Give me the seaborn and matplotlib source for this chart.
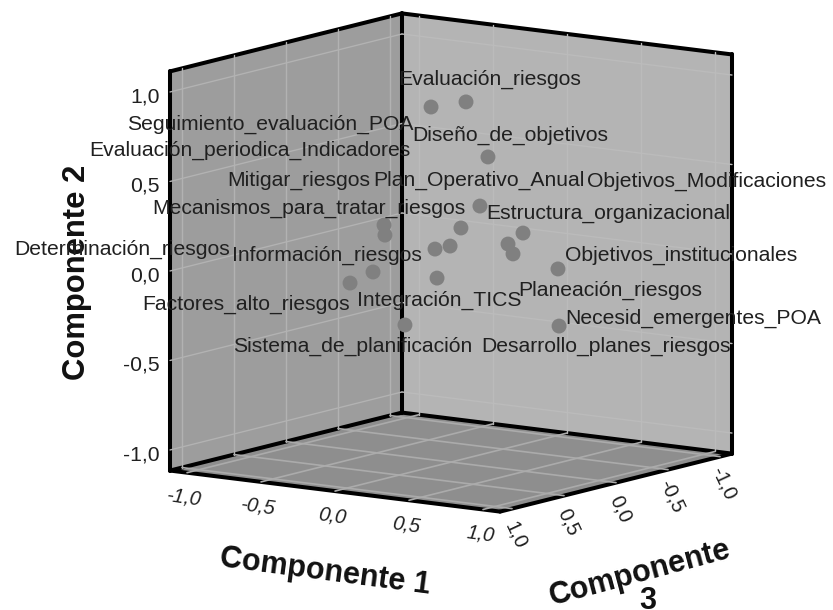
import numpy as np
import pandas as pd
import matplotlib
matplotlib.use("Agg")
import matplotlib.pyplot as plt
from matplotlib.patches import Polygon
import seaborn as sns

etiquetas = ["Evaluación_riesgos", "Seguimiento_evaluación_POA", "Diseño_de_objetivos",
             "Plan_Operativo_Anual", "Mecanismos_para_tratar_riesgos", "Desarrollo_planes_riesgos",
             "Información_riesgos", "Objetivos_Modificaciones", "Planeación_riesgos",
             "Estructura_organizacional", "Objetivos_institucionales", "Integración_TICS",
             "Evaluación_periodica_Indicadores", "Mitigar_riesgos", "Determinación_riesgos",
             "Factores_alto_riesgos", "Sistema_de_planificación", "Necesid_emergentes_POA"]
comp1 = [0.242, 0.076, 0.320, 0.336, 0.278, 0.064, 0.173, 0.315, 0.419,
         0.346, 0.512, 0.257, -0.031, -0.095, -0.035, -0.120, -0.030, 0.449]
comp2 = [0.951, 0.920, 0.637, 0.379, 0.265, 0.113, 0.151, 0.121, 0.091,
         0.171, -0.027, 0.012, 0.293, 0.216, 0.045, -0.011, -0.294, -0.367]
comp3 = [0.2, 0.3, 0.1, 0.2, 0.3, 0.1, 0.4, -0.1, 0.0,
         -0.2, -0.3, 0.5, 0.6, 0.5, 0.7, 0.8, 0.4, -0.4]
ticks = [-1.0, -0.5, 0.0, 0.5, 1.0]

# donde cae cada etiqueta en la imagen (izquierda, centro vertical)
etq_x = [398, 127, 412, 373, 152, 481, 232, 587, 518, 486, 565, 357, 89, 227, 14, 142, 233, 565]
etq_y = [79, 124, 135, 180, 208, 346, 255, 181, 290, 213, 255, 300, 150, 180, 249, 304, 346, 318]

L = 1.115  # el cubo llega un poco mas alla de +-1


# proyeccion paralela del cubo a pixeles de la imagen
def proy(c1, c2, c3):
    c1, c2, c3 = np.asarray(c1, float), np.asarray(c2, float), np.asarray(c3, float)
    x = 451 + 148 * c1 - 104 * c3
    y = 262.5 + 18.4 * c1 + 26 * c3 - 179 * c2
    return x, y


def linea(ax, a, b, **kw):
    x, y = proy(*np.array([a, b]).T)
    ax.plot(x, y, **kw)


def cara(ax, puntos, color):
    x, y = proy(*np.array(puntos).T)
    ax.add_patch(Polygon(np.c_[x, y], closed=True, fc=color, ec="none", zorder=0))


sns.set_theme(style="white")
plt.rcParams["font.family"] = ["Liberation Sans", "DejaVu Sans"]

fig, ax = plt.subplots(figsize=(8.33, 6.10), dpi=100)
fig.subplots_adjust(0, 0, 1, 1)
ax.set_xlim(0, 833)
ax.set_ylim(610, 0)
ax.axis("off")

# paredes y piso
cara(ax, [(-L, -L, -L), (-L, -L, L), (-L, L, L), (-L, L, -L)], "#9d9d9d")
cara(ax, [(-L, -L, -L), (L, -L, -L), (L, L, -L), (-L, L, -L)], "#b4b4b4")
cara(ax, [(-L, -L, -L), (L, -L, -L), (L, -L, L), (-L, -L, L)], "#8e8e8e")

# marco negro
marco = [((-L, -L, L), (-L, L, L)), ((-L, -L, -L), (-L, L, -L)), ((L, -L, -L), (L, L, -L)),
         ((-L, L, L), (-L, L, -L)), ((-L, L, -L), (L, L, -L)),
         ((-L, -L, L), (-L, -L, -L)), ((-L, -L, -L), (L, -L, -L)),
         ((-L, -L, L), (L, -L, L)), ((L, -L, -L), (L, -L, L))]
for a, b in marco:
    linea(ax, a, b, color="black", lw=2.9, zorder=1, solid_capstyle="round")

# rejilla, por encima del marco para que lo muerda un poco
for t in ticks:
    linea(ax, (-L, -L, t), (-L, L, t), color="#b2b2b2", lw=1, zorder=2)
    linea(ax, (-L, t, -L), (-L, t, L), color="#b2b2b2", lw=1, zorder=2)
    linea(ax, (t, -L, -L), (t, L, -L), color="#bbbbbb", lw=1, zorder=2)
    linea(ax, (-L, t, -L), (L, t, -L), color="#bbbbbb", lw=1, zorder=2)
    linea(ax, (t, -L, -L), (t, -L, L), color="#ababab", lw=1.2, zorder=2)
    linea(ax, (-L, -L, t), (L, -L, t), color="#ababab", lw=1.2, zorder=2)

# puntos
px, py = proy(comp1, comp2, comp3)
df = pd.DataFrame({"x": px, "y": py, "etiqueta": etiquetas})
sns.scatterplot(data=df, x="x", y="y", s=115, color="#808080", edgecolor="none",
                legend=False, zorder=3, ax=ax)
ax.set_xlabel("")
ax.set_ylabel("")

for e, x, y in zip(etiquetas, etq_x, etq_y):
    ax.text(x, y, e, fontsize=15.2, color="#202020", ha="left", va="center", zorder=4)

# etiquetas de los ejes
tick_txt = [f"{t:.1f}".replace(".", ",") for t in ticks]
for t, s in zip(ticks, tick_txt):
    x, y = proy(-L, t, L)
    ax.text(x - 10, y + 5, s, fontsize=15.2, color="#202020", ha="right", va="center")
    x, y = proy(t, -L, L)
    ax.text(x - 3, y + 25, s, fontsize=14.5, style="italic", rotation=-8, color="#202020",
            ha="center", va="center", rotation_mode="anchor")
    x, y = proy(L, -L, t)
    ax.text(x + 4, y + 27, s, fontsize=14.5, rotation=-65, color="#202020",
            ha="center", va="center", rotation_mode="anchor")

ax.text(77, 272, "Componente 2", fontsize=22.3, fontweight="bold", rotation=90,
        color="#111111", ha="center", va="center")
ax.text(325, 572, "Componente 1", fontsize=22, fontweight="bold", rotation=-7.5,
        color="#111111", ha="center", va="center", rotation_mode="anchor")
ax.text(640, 573, "Componente", fontsize=22, fontweight="bold", rotation=15,
        color="#111111", ha="center", va="center", rotation_mode="anchor")
ax.text(648, 601, "3", fontsize=22, fontweight="bold", color="#111111",
        ha="center", va="center")

plt.savefig("out.png", dpi=100)
plt.close()
